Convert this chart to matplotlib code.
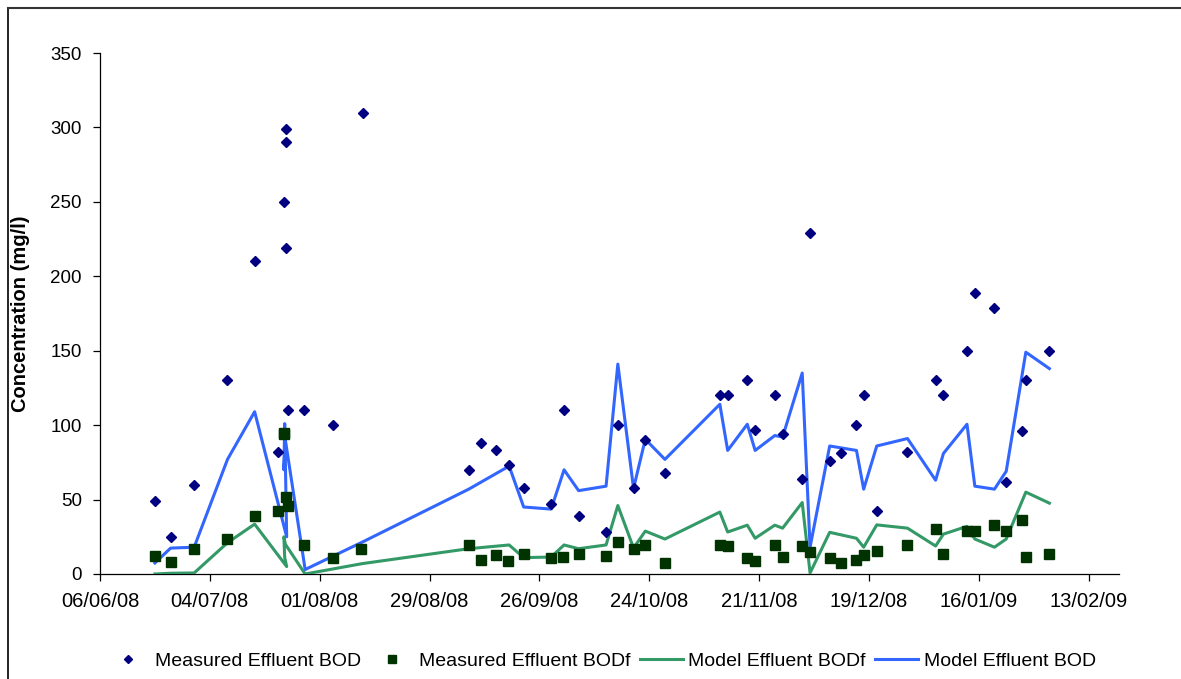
import matplotlib
matplotlib.use("Agg")
import matplotlib.pyplot as plt
import matplotlib.dates as mdates
from matplotlib.lines import Line2D
import pandas as pd

plt.rcParams['font.family'] = ['Liberation Sans', 'DejaVu Sans']

# ---------------- data ----------------
bod_dates = ["2008-06-20", "2008-06-24", "2008-06-30", "2008-07-08 12:00", "2008-07-15 14:00",
             "2008-07-21 12:00", "2008-07-22 19:00", "2008-07-23 07:00", "2008-07-23 12:00",
             "2008-07-23 12:00", "2008-07-24", "2008-07-28", "2008-08-04 07:00", "2008-08-11 22:00",
             "2008-09-08", "2008-09-11", "2008-09-15", "2008-09-18 07:00", "2008-09-22",
             "2008-09-29", "2008-10-02 07:00", "2008-10-06", "2008-10-13", "2008-10-16",
             "2008-10-20", "2008-10-23", "2008-10-28", "2008-11-11", "2008-11-13",
             "2008-11-18", "2008-11-20", "2008-11-25", "2008-11-27", "2008-12-02",
             "2008-12-04", "2008-12-09", "2008-12-12", "2008-12-15 20:00", "2008-12-17 16:00",
             "2008-12-21", "2008-12-28 20:00", "2009-01-05", "2009-01-07", "2009-01-13",
             "2009-01-15", "2009-01-20", "2009-01-23", "2009-01-27", "2009-01-28", "2009-02-03"]
bod_values = [49, 25, 60, 130, 210, 82, 250, 290, 299, 219, 110, 110, 100, 310,
              70, 88, 83, 73, 58, 47, 110, 39, 28, 100, 58, 90, 68, 120, 120,
              130, 97, 120, 94, 64, 229, 76, 81, 100, 120, 42, 82, 130, 120, 150,
              189, 179, 62, 96, 130, 150]

bodf_dates = ["2008-06-20", "2008-06-24", "2008-06-30", "2008-07-08 07:00", "2008-07-15 10:00",
              "2008-07-21 07:00", "2008-07-22 19:00", "2008-07-23 00:00", "2008-07-23 12:00",
              "2008-07-24", "2008-07-28", "2008-08-04 07:00", "2008-08-11 14:00",
              "2008-09-08", "2008-09-11", "2008-09-15", "2008-09-18", "2008-09-22",
              "2008-09-29", "2008-10-02", "2008-10-06", "2008-10-13", "2008-10-16",
              "2008-10-20", "2008-10-23", "2008-10-28", "2008-11-11", "2008-11-13",
              "2008-11-18", "2008-11-20", "2008-11-25", "2008-11-27", "2008-12-02",
              "2008-12-04", "2008-12-09", "2008-12-12", "2008-12-15 20:00", "2008-12-17 16:00",
              "2008-12-21", "2008-12-28 20:00", "2009-01-05", "2009-01-07", "2009-01-13",
              "2009-01-15", "2009-01-20", "2009-01-23", "2009-01-27", "2009-01-28", "2009-02-03"]
bodf_values = [12, 8, 17, 23.5, 39, 42, 94, 95, 52, 46, 19.5, 11, 17,
               19.5, 9.5, 12.5, 8.7, 13.5, 10.7, 11.4, 13.4, 12, 21.5, 16.8, 19.5, 7.4,
               19.5, 18.5, 10.7, 8.4, 19.5, 11.4, 18.8, 14.7, 10.7, 7.4, 9.4, 12.6, 15.4,
               19.5, 30, 13.4, 29, 29, 33, 29, 36, 11.5, 13.4]

model_dates = ["2008-06-20", "2008-06-24", "2008-06-30", "2008-07-08 12:00", "2008-07-15 10:00",
               "2008-07-23 14:00", "2008-07-23 02:00", "2008-07-22 21:00", "2008-07-23 06:00",
               "2008-07-28 07:00", "2008-08-11 22:00", "2008-09-08", "2008-09-18 07:00",
               "2008-09-22", "2008-09-29", "2008-10-02 07:00", "2008-10-06", "2008-10-13",
               "2008-10-16", "2008-10-20", "2008-10-23", "2008-10-28", "2008-11-11",
               "2008-11-13", "2008-11-18", "2008-11-20", "2008-11-25", "2008-11-27",
               "2008-12-02", "2008-12-04", "2008-12-09", "2008-12-15 20:00", "2008-12-17 16:00",
               "2008-12-21", "2008-12-28 20:00", "2009-01-05", "2009-01-07", "2009-01-13",
               "2009-01-15", "2009-01-20", "2009-01-23", "2009-01-28", "2009-02-03"]
model_bod = [7.4, 17.4, 18, 77, 109, 25, 101, 70, 90, 3, 21.5, 57, 72.5,
             45, 43.6, 70, 56, 59, 141, 57.5, 90.5, 77, 114,
             83, 100.6, 83, 93, 92, 135, 18, 86, 83, 57,
             86, 91, 63, 81, 100.6, 59, 57, 69, 149, 138]
model_bodf = [0, 0.5, 0.7, 21, 33.5, 5, 11, 25, 20, 0, 7, 17, 19.5,
              11, 11.4, 19.5, 17, 19.5, 46, 17.5, 28.8, 23.5, 41.6,
              28.2, 32.8, 24, 32.8, 30.8, 48, 0.7, 28, 24, 18,
              33, 30.8, 18.8, 26.8, 32, 23.5, 18, 23.5, 55, 47.6]

tick_dates = pd.date_range("2008-06-06", "2009-02-13", freq="28D")
y_ticks = [0, 50, 100, 150, 200, 250, 300, 350]


def to_dt(lst):
    return pd.to_datetime(lst, format="ISO8601")


# ---------------- figure ----------------
W, H = 1181, 679
fig = plt.figure(figsize=(W / 100, H / 100), dpi=100)
ax = fig.add_axes([100 / W, 1 - 574 / H, 1019 / W, 521 / H])

blue_c = "#3366FF"
green_c = "#339966"

h_bod, = ax.plot(to_dt(bod_dates), bod_values, linestyle="none", marker="D",
                 ms=5.3, color="#000080", mec="#000080", zorder=5)
h_bodf, = ax.plot(to_dt(bodf_dates), bodf_values, linestyle="none", marker="s",
                  ms=6.7, color="#003300", mec="#003300", zorder=4)
h_mf, = ax.plot(to_dt(model_dates), model_bodf, color=green_c, lw=2.2, zorder=3)
h_mb, = ax.plot(to_dt(model_dates), model_bod, color=blue_c, lw=2.2, zorder=3)

ax.set_xlim(pd.Timestamp("2008-06-06"), pd.Timestamp("2009-02-20 18:00"))
ax.set_ylim(0, 350)
ax.set_xticks(tick_dates)
ax.xaxis.set_major_formatter(mdates.DateFormatter("%d/%m/%y"))
ax.set_yticks(y_ticks)

for s in ["top", "right"]:
    ax.spines[s].set_visible(False)
for s in ["left", "bottom"]:
    ax.spines[s].set_linewidth(0.9)
ax.tick_params(axis="both", direction="out", length=5, width=0.9)
ax.tick_params(axis="y", pad=8, labelsize=13.5)
ax.tick_params(axis="x", pad=8, labelsize=14.5)

ax.set_ylabel("Concentration (mg/l)", fontsize=14.5, fontweight="bold")
ax.yaxis.set_label_coords(-0.0687, 0.5)

# outer frame (left and top edges visible)
fig.add_artist(Line2D([8 / W, 8 / W], [0, 1 - 8 / H], transform=fig.transFigure,
                      color="black", lw=1.2))
fig.add_artist(Line2D([8 / W, 1], [1 - 8 / H, 1 - 8 / H], transform=fig.transFigure,
                      color="#333333", lw=1.5))

fig.legend([h_bod, h_bodf, h_mf, h_mb],
           ["Measured Effluent BOD", "Measured Effluent BODf",
            "Model Effluent BODf", "Model Effluent BOD"],
           loc="center", bbox_to_anchor=(601 / W, 1 - 661 / H), ncol=4, frameon=False,
           fontsize=14, handlelength=2.2, handletextpad=0.28, columnspacing=0.5,
           markerscale=0.8)

fig.savefig("out.png", dpi=100)
